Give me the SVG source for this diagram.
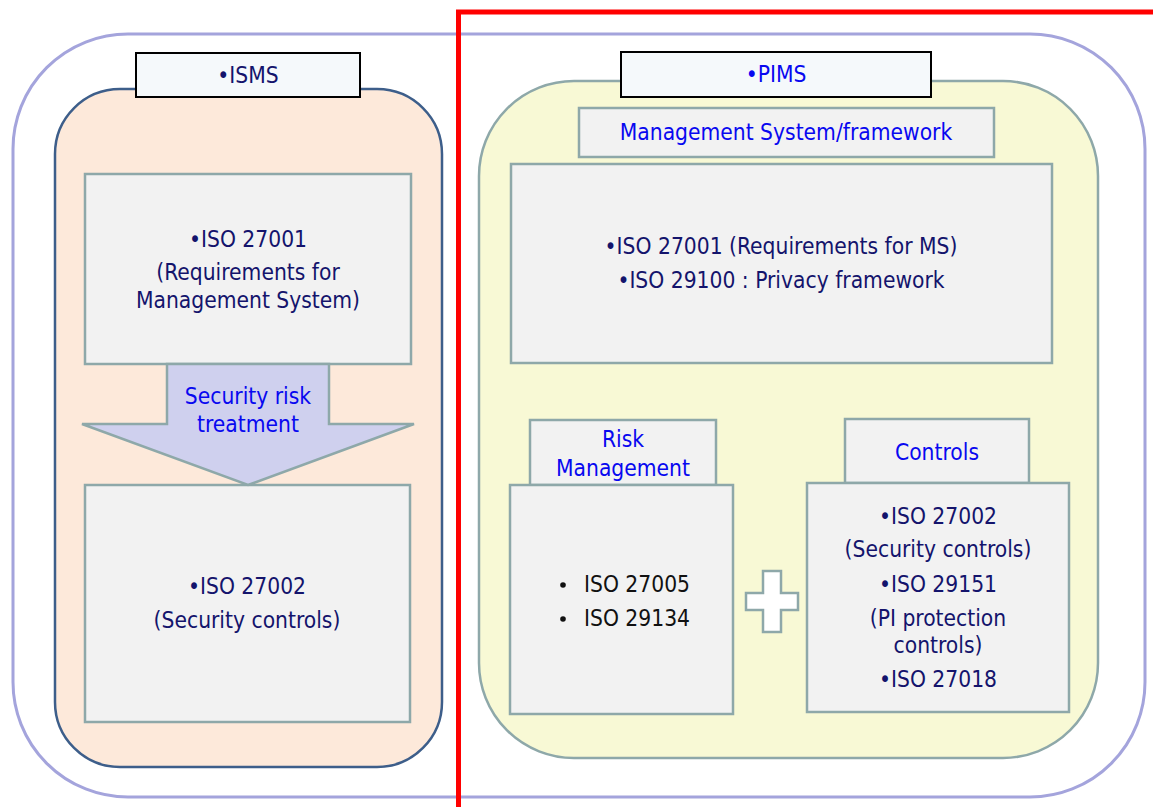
<svg xmlns="http://www.w3.org/2000/svg" width="1153" height="807" viewBox="0 0 1153 807">
  <style>
    text { font-family: "DejaVu Sans Condensed", "DejaVu Sans", sans-serif; font-size: 22.6px; text-anchor: middle; }
    .navy { fill: #14146c; }
    .blue { fill: #0808f0; }
    .black { fill: #111111; text-anchor: start; }
    .box { fill: #f2f2f2; stroke: #8ea8a9; stroke-width: 2.5; }
    .tag { fill: #f5f9fb; stroke: #000000; stroke-width: 2; }
  </style>

  <rect width="1153" height="807" fill="#ffffff"/>

  <!-- outer frame around both systems -->
  <rect id="frame" x="13" y="34" width="1132" height="763" rx="115" ry="115" fill="none" stroke="#a4a4dc" stroke-width="3"/>

  <!-- ISMS column -->
  <g id="isms">
    <rect x="55" y="89" width="387" height="678" rx="65" ry="65" fill="#fde9da" stroke="#3d5e8a" stroke-width="2.5"/>
    <rect class="tag" x="136" y="53" width="224" height="44"/>
    <text class="navy" x="248" y="83">•ISMS</text>
  </g>

  <g id="isms-requirements">
    <rect class="box" x="85" y="174" width="326" height="190"/>
    <text class="navy" x="248" y="247">•ISO 27001</text>
    <text class="navy" x="248" y="280">(Requirements for</text>
    <text class="navy" x="248" y="308">Management System)</text>
  </g>

  <g id="isms-controls">
    <rect class="box" x="85" y="485" width="325" height="237"/>
    <text class="navy" x="247" y="594">•ISO 27002</text>
    <text class="navy" x="247" y="628">(Security controls)</text>
  </g>

  <!-- PIMS column -->
  <g id="pims">
    <rect x="479" y="81" width="619" height="677" rx="95" ry="95" fill="#f8f9d5" stroke="#8ea8a9" stroke-width="2.5"/>
    <rect class="tag" x="621" y="52" width="310" height="45"/>
    <text class="blue" x="776" y="82">•PIMS</text>
  </g>

  <g id="pims-framework">
    <rect class="box" x="579" y="108" width="415" height="49"/>
    <text class="blue" x="786" y="140">Management System/framework</text>
    <rect class="box" x="511" y="164" width="541" height="199"/>
    <text class="navy" x="781" y="254">•ISO 27001  (Requirements for MS)</text>
    <text class="navy" x="781" y="288">•ISO 29100 : Privacy framework</text>
  </g>

  <g id="pims-risk">
    <rect class="box" x="530" y="420" width="186" height="65"/>
    <text class="blue" x="623" y="447">Risk</text>
    <text class="blue" x="623" y="476">Management</text>
    <rect class="box" x="510" y="485" width="223" height="229"/>
    <circle cx="563" cy="585" r="2.8" fill="#111111"/>
    <text class="black" x="584" y="592">ISO 27005</text>
    <circle cx="563" cy="619" r="2.8" fill="#111111"/>
    <text class="black" x="584" y="626">ISO 29134</text>
  </g>

  <g id="pims-plus">
    <path d="M763,571 H781 V593 H798 V610 H781 V632 H763 V610 H746 V593 H763 Z" fill="#ffffff" stroke="#8ea8a9" stroke-width="2.5"/>
  </g>

  <g id="pims-controls">
    <rect class="box" x="845" y="419" width="184" height="64"/>
    <text class="blue" x="937" y="460">Controls</text>
    <rect class="box" x="807" y="483" width="262" height="229"/>
    <text class="navy" x="938" y="524">•ISO 27002</text>
    <text class="navy" x="938" y="557">(Security controls)</text>
    <text class="navy" x="938" y="592">•ISO 29151</text>
    <text class="navy" x="938" y="626">(PI protection</text>
    <text class="navy" x="938" y="653">controls)</text>
    <text class="navy" x="938" y="687">•ISO 27018</text>
  </g>

  <!-- block arrow between the two ISMS boxes -->
  <g id="connectors">
    <path d="M167,364 H329 V424 H414 L248,485 L82,424 H167 Z" fill="#cfd0ee" stroke="#8ea8a9" stroke-width="2.5"/>
    <text class="blue" x="248" y="404">Security risk</text>
    <text class="blue" x="248" y="432">treatment</text>
  </g>

  <!-- red emphasis bracket -->
  <g id="highlight">
    <path d="M458.5,807 V12 H1153" fill="none" stroke="#ff0000" stroke-width="5"/>
  </g>
</svg>
